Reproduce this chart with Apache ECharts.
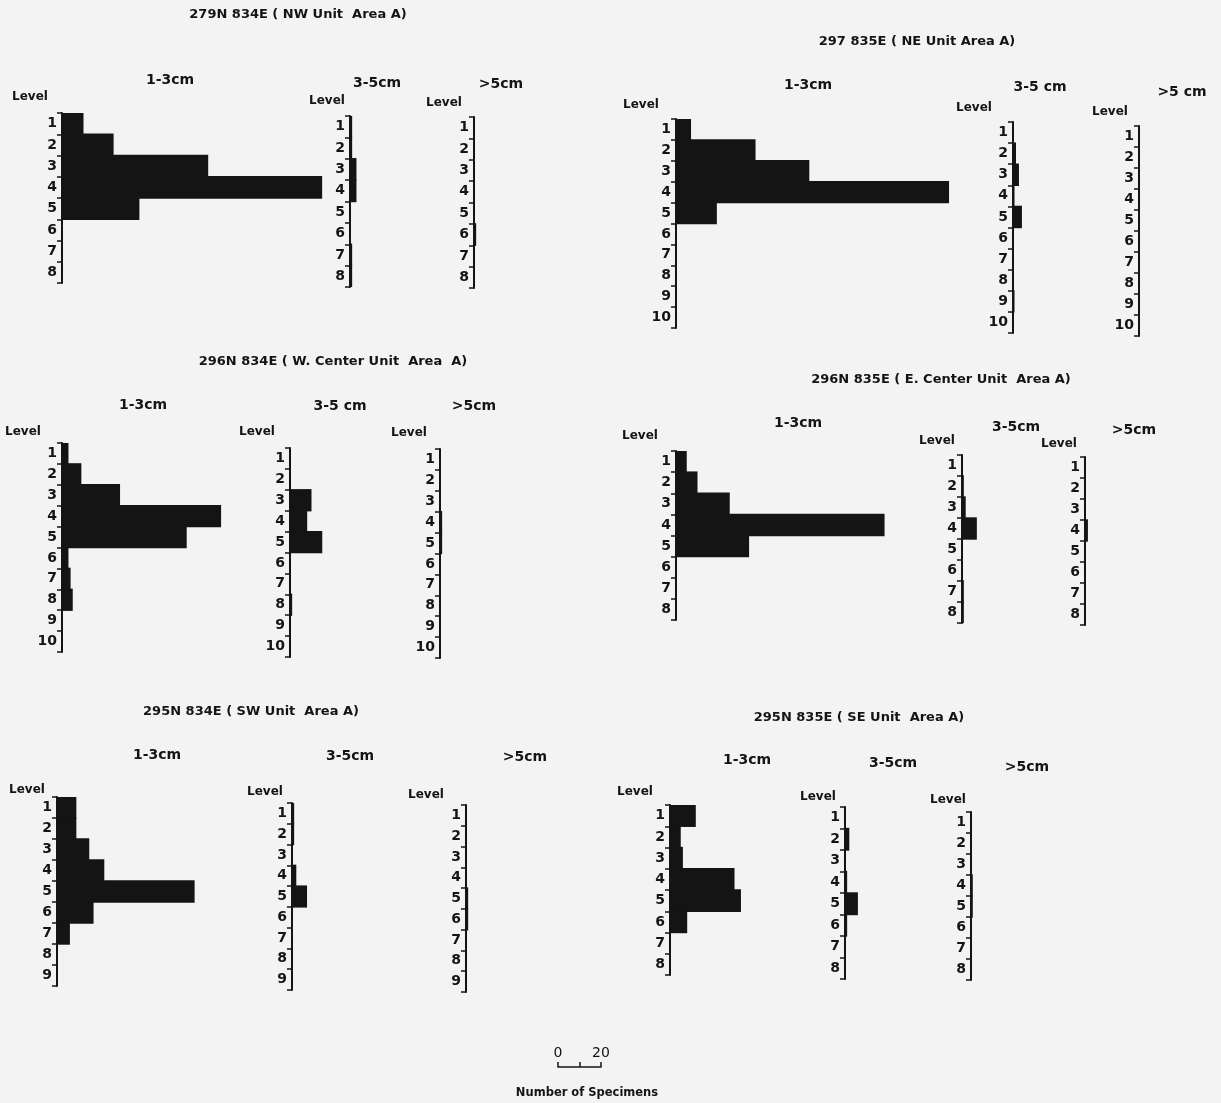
<!DOCTYPE html>
<html>
<head>
<meta charset="utf-8">
<script src="https://cdn.jsdelivr.net/npm/echarts/dist/echarts.min.js"></script>
<style>
  html, body { margin: 0; padding: 0; background: #f3f3f3; }
  #chart { width: 1221px; height: 1103px; }
</style>
</head>
<body>
<div id="chart"></div>
<script>
// ---- Level tick labels ----
const levels8  = ['1', '2', '3', '4', '5', '6', '7', '8'];
const levels9  = ['1', '2', '3', '4', '5', '6', '7', '8', '9'];
const levels10 = ['1', '2', '3', '4', '5', '6', '7', '8', '9', '10'];

// ---- Unit titles ----
const titleNW = '279N 834E ( NW Unit  Area A)';
const titleNE = '297 835E ( NE Unit Area A)';
const titleWC = '296N 834E ( W. Center Unit  Area  A)';
const titleEC = '296N 835E ( E. Center Unit  Area A)';
const titleSW = '295N 834E ( SW Unit  Area A)';
const titleSE = '295N 835E ( SE Unit  Area A)';

// ---- Number of specimens per level, by size class ----
const nwSmall  = [10, 24, 68, 121, 36, 0, 0, 0];
const nwMedium = [1, 1, 3, 3, 0, 0, 1, 1];
const nwLarge  = [0, 0, 0, 0, 0, 1, 0, 0];

const neSmall  = [7, 37, 62, 127, 19, 0, 0, 0, 0, 0];
const neMedium = [0, 2, 4, 1, 6, 0, 0, 0, 1, 0];
const neLarge  = [0, 0, 0, 0, 0, 0, 0, 0, 0, 0];

const wcSmall  = [3, 9, 27, 74, 58, 3, 4, 5, 0, 0];
const wcMedium = [0, 0, 10, 8, 15, 0, 0, 1, 0, 0];
const wcLarge  = [0, 0, 0, 1, 1, 0, 0, 0, 0, 0];

const ecSmall  = [5, 10, 25, 97, 34, 0, 0, 0];
const ecMedium = [0, 1, 2, 8, 0, 0, 1, 1];
const ecLarge  = [0, 0, 0, 3, 0, 0, 0, 0];

const swSmall  = [9, 9, 15, 22, 64, 17, 6, 0, 0];
const swMedium = [1, 1, 0, 2, 7, 0, 0, 0, 0];
const swLarge  = [0, 0, 0, 0, 1, 1, 0, 0, 0];

const seSmall  = [12, 5, 6, 30, 33, 8, 0, 0];
const seMedium = [0, 2, 0, 1, 6, 1, 0, 0];
const seLarge  = [0, 0, 0, 1, 1, 0, 0, 0];

// ---- Scale bar ----
const scaleMax = 20;
const scaleLabel = 'Number of Specimens';

// ---- Drawing setup ----
const INK = '#141414';
const FONT = '"DejaVu Sans", "Liberation Sans", sans-serif';
const PX_PER_SPECIMEN = 2.15;   // shared horizontal scale for every histogram
const BAR_SPAN = 300;           // px reserved for each value axis

// Panel placement: axis x, top and bottom of each level column, and text anchors
const panels = [
  { title: titleNW, titleAt: [298, 15],
    hists: [
      { label: '1-3cm',  levels: levels8,  values: nwSmall,  x: 62,   top: 113, bottom: 283, labelAt: [170, 80],  levelAt: [30, 97] },
      { label: '3-5cm',  levels: levels8,  values: nwMedium, x: 350,  top: 116, bottom: 287, labelAt: [377, 83],  levelAt: [327, 101] },
      { label: '>5cm',   levels: levels8,  values: nwLarge,  x: 474,  top: 117, bottom: 288, labelAt: [501, 84],  levelAt: [444, 103] }
    ] },
  { title: titleNE, titleAt: [917, 42],
    hists: [
      { label: '1-3cm',  levels: levels10, values: neSmall,  x: 676,  top: 119, bottom: 328, labelAt: [808, 85],  levelAt: [641, 105] },
      { label: '3-5 cm', levels: levels10, values: neMedium, x: 1013, top: 122, bottom: 333, labelAt: [1040, 87], levelAt: [974, 108] },
      { label: '>5 cm',  levels: levels10, values: neLarge,  x: 1139, top: 126, bottom: 336, labelAt: [1182, 92], levelAt: [1110, 112] }
    ] },
  { title: titleWC, titleAt: [333, 362],
    hists: [
      { label: '1-3cm',  levels: levels10, values: wcSmall,  x: 62,   top: 443, bottom: 652, labelAt: [143, 405], levelAt: [23, 432] },
      { label: '3-5 cm', levels: levels10, values: wcMedium, x: 290,  top: 448, bottom: 657, labelAt: [340, 406], levelAt: [257, 432] },
      { label: '>5cm',   levels: levels10, values: wcLarge,  x: 440,  top: 449, bottom: 658, labelAt: [474, 406], levelAt: [409, 433] }
    ] },
  { title: titleEC, titleAt: [941, 380],
    hists: [
      { label: '1-3cm',  levels: levels8,  values: ecSmall,  x: 676,  top: 451, bottom: 620, labelAt: [798, 423], levelAt: [640, 436] },
      { label: '3-5cm',  levels: levels8,  values: ecMedium, x: 962,  top: 455, bottom: 623, labelAt: [1016, 427], levelAt: [937, 441] },
      { label: '>5cm',   levels: levels8,  values: ecLarge,  x: 1085, top: 457, bottom: 625, labelAt: [1134, 430], levelAt: [1059, 444] }
    ] },
  { title: titleSW, titleAt: [251, 712],
    hists: [
      { label: '1-3cm',  levels: levels9,  values: swSmall,  x: 57,   top: 797, bottom: 986, labelAt: [157, 755], levelAt: [27, 790] },
      { label: '3-5cm',  levels: levels9,  values: swMedium, x: 292,  top: 803, bottom: 990, labelAt: [350, 756], levelAt: [265, 792] },
      { label: '>5cm',   levels: levels9,  values: swLarge,  x: 466,  top: 805, bottom: 992, labelAt: [525, 757], levelAt: [426, 795] }
    ] },
  { title: titleSE, titleAt: [859, 718],
    hists: [
      { label: '1-3cm',  levels: levels8,  values: seSmall,  x: 670,  top: 805, bottom: 975, labelAt: [747, 760], levelAt: [635, 792] },
      { label: '3-5cm',  levels: levels8,  values: seMedium, x: 845,  top: 807, bottom: 979, labelAt: [893, 763], levelAt: [818, 797] },
      { label: '>5cm',   levels: levels8,  values: seLarge,  x: 971,  top: 812, bottom: 980, labelAt: [1027, 767], levelAt: [948, 800] }
    ] }
];

function textItem(str, at, size) {
  return {
    type: 'text', x: at[0], y: at[1], silent: true,
    style: { text: str, fill: INK, font: 'bold ' + size + 'px ' + FONT, align: 'center', verticalAlign: 'middle' }
  };
}

const grids = [], xAxes = [], yAxes = [], series = [], texts = [];

panels.forEach(p => {
  texts.push(textItem(p.title, p.titleAt, 13));
  p.hists.forEach(h => {
    const idx = grids.length;
    const height = h.bottom - h.top;
    const band = height / h.levels.length;
    grids.push({ left: h.x, top: h.top, width: BAR_SPAN, height: height, containLabel: false });
    xAxes.push({ gridIndex: idx, type: 'value', min: 0, max: BAR_SPAN / PX_PER_SPECIMEN, show: false });
    yAxes.push({
      gridIndex: idx, type: 'category', inverse: true, data: h.levels,
      axisLine: { show: true, lineStyle: { color: INK, width: 2 } },
      axisTick: { show: true, length: 5, lineStyle: { color: INK, width: 1.5 } },
      axisLabel: { margin: 5, color: INK, fontSize: 14, fontWeight: 'bold', fontFamily: FONT },
      splitLine: { show: false }
    });
    series.push({
      type: 'bar', xAxisIndex: idx, yAxisIndex: idx, data: h.values,
      // a touch thicker than one level so neighbouring bars merge without seams
      barWidth: band + 1.4,
      itemStyle: { color: INK },
      silent: true
    });
    texts.push(textItem(h.label, h.labelAt, 14));
    texts.push(textItem('Level', h.levelAt, 12));
  });
});

// Scale bar: 0–20 specimens on the same horizontal scale
const sIdx = grids.length;
grids.push({ left: 558, top: 1066, width: scaleMax * PX_PER_SPECIMEN, height: 1 });
xAxes.push({
  gridIndex: sIdx, type: 'value', position: 'top', min: 0, max: scaleMax, interval: scaleMax / 2,
  axisLine: { show: true, lineStyle: { color: INK, width: 1.5 } },
  axisTick: { show: true, length: 5, lineStyle: { color: INK, width: 1.5 } },
  axisLabel: { margin: 6, color: INK, fontSize: 14, fontFamily: FONT, formatter: v => (v === scaleMax / 2 ? '' : String(v)) },
  splitLine: { show: false }
});
yAxes.push({ gridIndex: sIdx, type: 'value', show: false });
texts.push(textItem(scaleLabel, [587, 1093], 11.5));

const chart = echarts.init(document.getElementById('chart'), null, { renderer: 'canvas' });
chart.setOption({
  backgroundColor: '#f3f3f3',
  animation: false,
  grid: grids,
  xAxis: xAxes,
  yAxis: yAxes,
  series: series,
  graphic: texts
});
</script>
</body>
</html>
